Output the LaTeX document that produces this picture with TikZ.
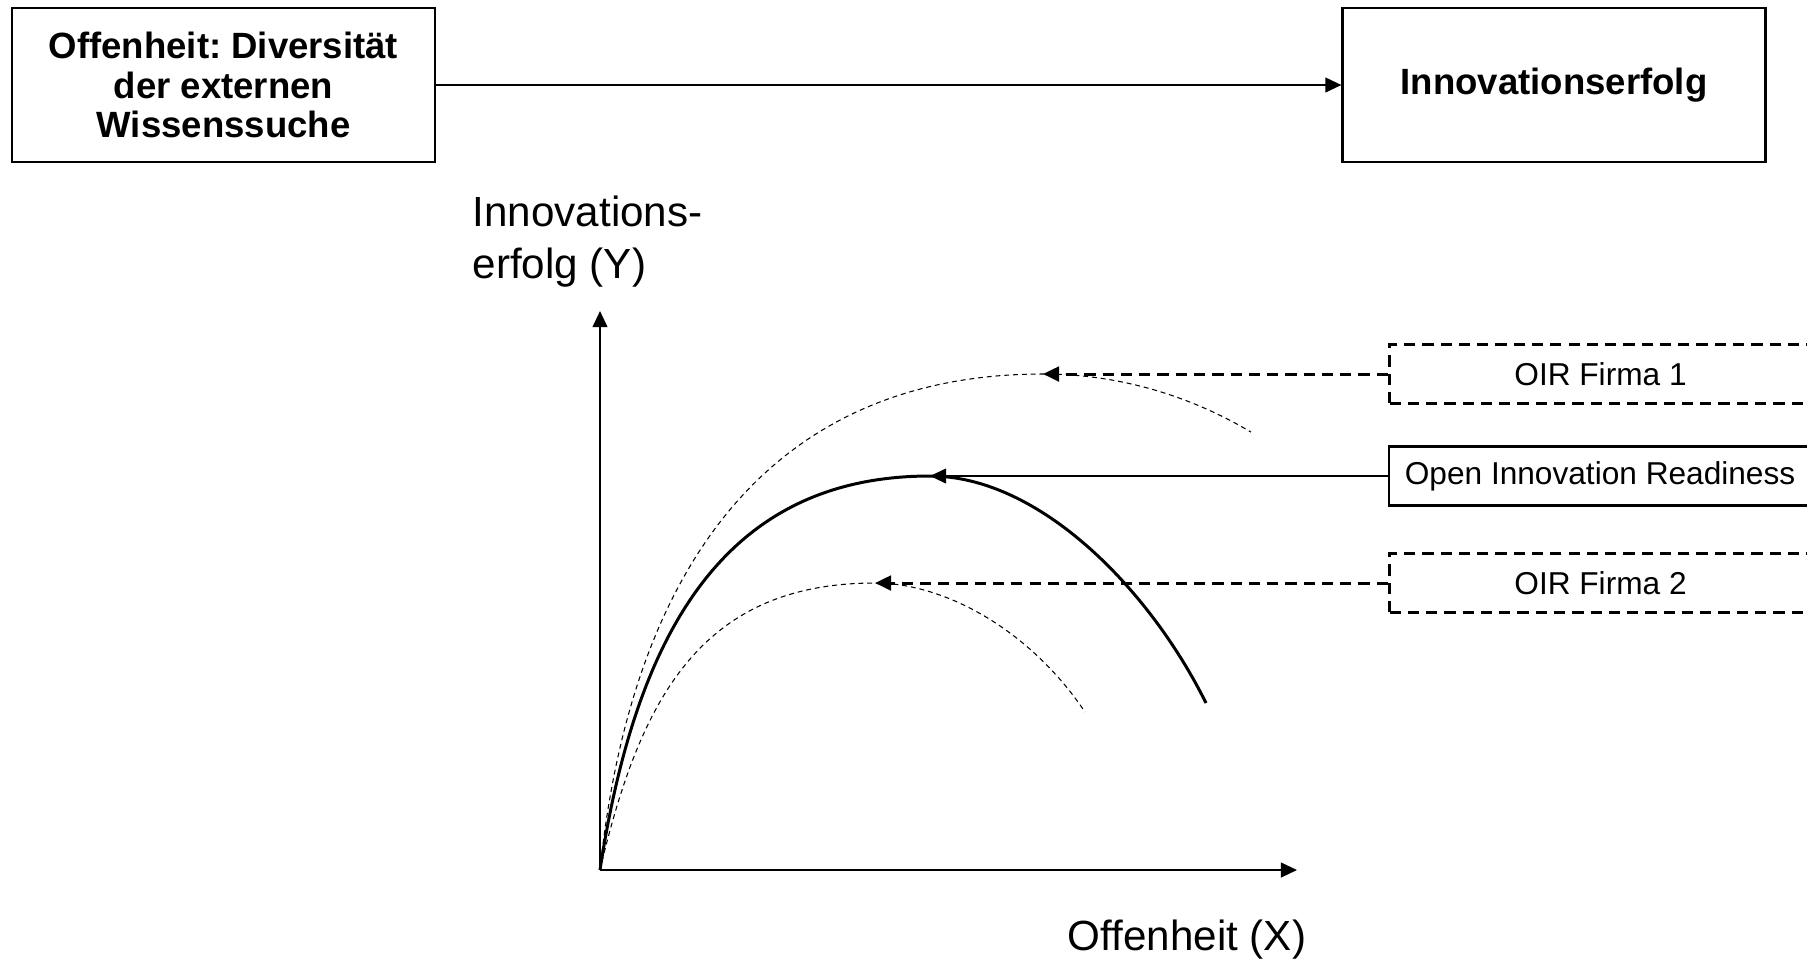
\documentclass[tikz,border=0pt]{standalone}
\usepackage{fontspec}
\setmainfont{Liberation Sans}
\frenchspacing
\usetikzlibrary{arrows.meta}
\tikzset{
  >={Triangle[length=4.6pt,width=4.2pt]},
  box/.style={draw, line width=0.6pt, minimum width=4.23cm, minimum height=1.54cm,
    align=center, font=\bfseries\fontsize{10.4}{11.2}\selectfont},
  dashline/.style={line width=0.85pt, dash pattern=on 3.2pt off 2pt},
  oir/.style={draw, line width=0.6pt, anchor=west, minimum width=4.22cm,
    minimum height=0.59cm, inner sep=0pt, font=\fontsize{9}{11}\selectfont},
  oirdash/.style={oir, dashline},
  thindash/.style={line width=0.3pt, dash pattern=on 1.4pt off 1.1pt}
}

\begin{document}
\begin{tikzpicture}
  \useasboundingbox (0,0) rectangle (18.07,-9.63);

  \node [box] (wissen) at (2.235,-0.85) {Offenheit: Diversität\\der externen\\Wissenssuche};
  \node [box] (erfolg) at (15.54,-0.85) {Innovationserfolg};
  \draw [->, line width=0.6pt] (wissen) -- (erfolg);

  \coordinate (O) at (6.00,-8.70);
  \coordinate (ytip) at (6.00,-3.11);
  \coordinate (xtip) at (12.97,-8.70);
  \draw [->, line width=0.6pt] (O) -- (ytip);
  \draw [->, line width=0.6pt] (O) -- (xtip);
  \node [anchor=north west, inner sep=0pt, align=left, font=\fontsize{12}{14.8}\selectfont]
    (ylabel) at (4.72,-1.95) {Innovations-\\erfolg (Y)};
  \node [anchor=base, inner sep=0pt, font=\fontsize{12}{14.4}\selectfont]
    (xlabel) at (11.87,-9.50) {Offenheit (X)};

  \coordinate (peak1) at (10.43,-3.74);
  \coordinate (peak) at (9.30,-4.76);
  \coordinate (peak2) at (8.75,-5.83);

  \draw [thindash] (O) .. controls (6.30,-5.80) and (7.61,-3.74) .. (peak1)
    arc [start angle=90, end angle=62, x radius=4.43, y radius=4.96];
  \draw [line width=0.85pt] (O) .. controls (6.35,-6.40) and (7.20,-4.76) .. (peak)
    .. controls (10.40,-4.76) and (11.50,-5.90) .. (12.06,-7.03);
  \draw [thindash] (O) .. controls (6.40,-7.00) and (7.00,-5.83) .. (peak2)
    .. controls (9.45,-5.83) and (10.30,-6.30) .. (10.85,-7.12);

  \node [oirdash] (firma1) at (13.88,-3.74) {OIR Firma 1};
  \node [oir] (readiness) at (13.88,-4.76) {Open Innovation Readiness};
  \node [oirdash] (firma2) at (13.88,-5.83) {OIR Firma 2};

  \draw [->, dashline] (firma1) -- (peak1);
  \draw [->, line width=0.6pt] (readiness) -- (peak);
  \draw [->, dashline] (firma2) -- (peak2);
\end{tikzpicture}
\end{document}
